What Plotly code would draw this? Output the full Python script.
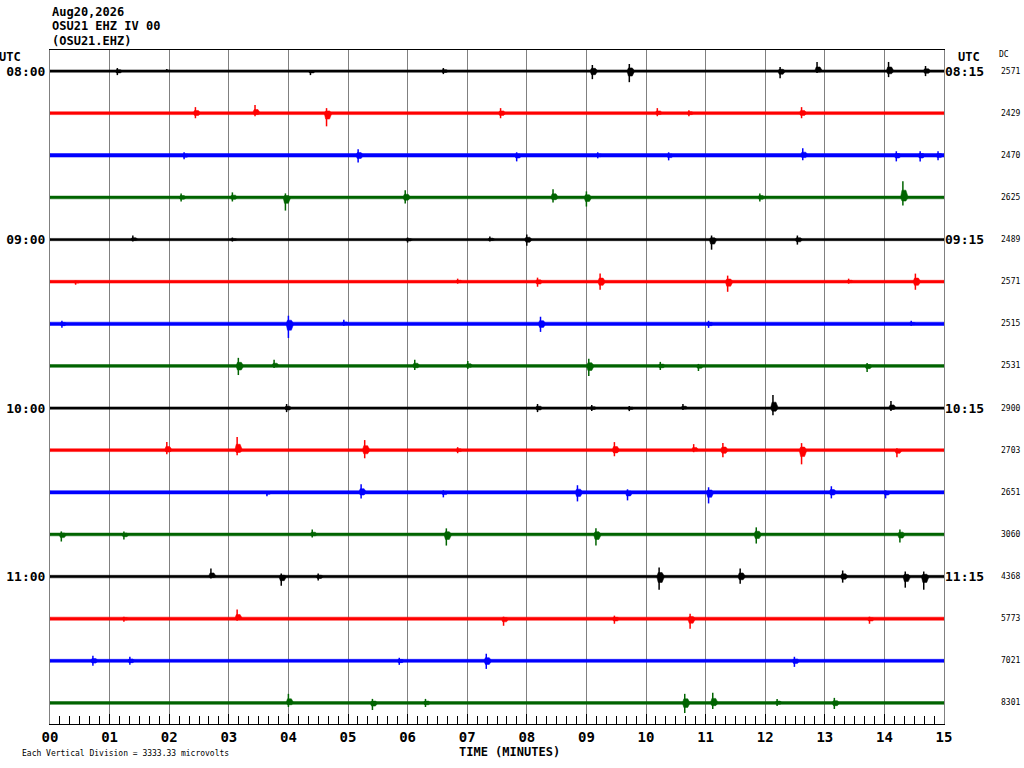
import plotly.graph_objects as go

# Helicorder OSU21 EHZ - 16 lines of 15 minutes, 08:00 to 12:00 UTC
START_LABELS_LEFT = ["08:00", "09:00", "10:00", "11:00"]
START_LABELS_RIGHT = ["08:15", "09:15", "10:15", "11:15"]
DC_OFFSETS = [2571, 2429, 2470, 2625, 2489, 2571, 2515, 2531,
              2900, 2703, 2651, 3060, 4368, 5773, 7021, 8301]
LINE_COLORS = ["#000000", "#ff0000", "#0000ff", "#006400"]
DIVISION_UV = 3333.33  # microvolts per vertical division (one line spacing)

# background noise half-width of each line, microvolts
NOISE_UV = [90, 110, 140, 110, 90, 110, 130, 110,
            90, 110, 130, 110, 100, 120, 120, 110]

# events: (minute, peak up uV, peak down uV)
ROW_0800 = [(1.13, 240, 320), (1.96, 160, 80), (4.37, 80, 320), (6.6, 240, 240),
            (9.1, 480, 640), (9.72, 560, 880), (12.25, 320, 560), (12.87, 720, 160),
            (14.07, 720, 480), (14.69, 400, 400)]
ROW_0815 = [(2.44, 480, 400), (3.44, 640, 240), (4.64, 400, 1040), (7.56, 400, 400),
            (10.19, 400, 240), (10.72, 240, 240), (12.61, 480, 400)]
ROW_0830 = [(2.25, 240, 320), (5.17, 480, 560), (7.83, 240, 480), (9.19, 240, 240),
            (10.38, 240, 400), (12.63, 560, 400), (14.2, 320, 480), (14.6, 320, 480),
            (14.9, 320, 400)]
ROW_0845 = [(2.2, 320, 320), (3.06, 400, 320), (3.95, 320, 1040), (5.96, 560, 480),
            (8.44, 640, 400), (9.0, 480, 720), (11.91, 320, 320), (14.31, 1280, 640)]
ROW_0900 = [(1.39, 320, 160), (3.06, 160, 160), (6.0, 160, 240), (7.38, 240, 160),
            (8.0, 400, 480), (11.1, 320, 800), (12.54, 320, 400)]
ROW_0915 = [(0.43, 80, 240), (6.84, 240, 160), (8.18, 320, 400), (9.23, 640, 640),
            (11.37, 480, 800), (13.4, 240, 160), (14.52, 640, 640)]
ROW_0930 = [(0.2, 240, 320), (4.0, 640, 1120), (4.93, 320, 160), (8.23, 560, 640),
            (11.05, 240, 320), (14.45, 240, 160)]
ROW_0945 = [(3.16, 640, 720), (3.76, 480, 160), (6.12, 480, 320), (7.01, 400, 240),
            (9.04, 560, 800), (10.24, 320, 320), (10.88, 160, 400), (13.71, 240, 480)]
ROW_1000 = [(3.97, 320, 320), (8.18, 320, 320), (9.09, 240, 240), (9.72, 160, 240),
            (10.62, 320, 160), (12.13, 1040, 560), (14.11, 560, 240)]
ROW_1015 = [(1.96, 640, 320), (3.14, 1040, 400), (5.28, 800, 640), (6.84, 240, 240),
            (9.47, 640, 480), (10.8, 480, 160), (11.29, 560, 560), (12.61, 560, 1120),
            (14.21, 160, 560)]
ROW_1030 = [(3.64, 80, 320), (5.22, 640, 480), (6.6, 160, 400), (8.85, 560, 720),
            (9.69, 240, 640), (11.05, 400, 880), (13.11, 480, 480), (14.02, 160, 480)]
ROW_1045 = [(0.19, 240, 560), (1.24, 240, 400), (4.4, 400, 240), (6.65, 480, 880),
            (9.16, 480, 880), (11.85, 560, 720), (14.26, 400, 640)]
ROW_1100 = [(2.7, 640, 160), (3.88, 240, 720), (4.5, 240, 320), (10.22, 720, 1040),
            (11.58, 640, 560), (13.3, 480, 480), (14.35, 400, 880), (14.66, 400, 1040)]
ROW_1115 = [(1.24, 160, 240), (3.14, 720, 160), (7.61, 160, 560), (9.47, 240, 400),
            (10.74, 400, 800), (13.75, 160, 400)]
ROW_1130 = [(0.72, 400, 400), (1.34, 320, 320), (5.86, 240, 320), (7.32, 560, 640),
            (12.49, 320, 480)]
ROW_1145 = [(4.0, 720, 320), (5.41, 320, 560), (6.3, 320, 320), (10.65, 720, 800),
            (11.12, 800, 480), (12.2, 320, 240), (13.16, 400, 480)]

ROWS = [ROW_0800, ROW_0815, ROW_0830, ROW_0845, ROW_0900, ROW_0915, ROW_0930, ROW_0945,
        ROW_1000, ROW_1015, ROW_1030, ROW_1045, ROW_1100, ROW_1115, ROW_1130, ROW_1145]

MONO = "DejaVu Sans Mono"
fig = go.Figure()

for r, events in enumerate(ROWS):
    base = -r
    color = LINE_COLORS[r % 4]
    n = NOISE_UV[r] / DIVISION_UV
    # noise band
    fig.add_trace(go.Scatter(
        x=[0, 15, 15, 0, 0], y=[base + n, base + n, base - n, base - n, base + n],
        mode="lines", fill="toself", fillcolor=color,
        line=dict(color=color, width=0.5), hoverinfo="skip", showlegend=False))
    # event bodies: a short spindle around each onset
    for t, up, down in events:
        u, d = 0.45 * up / DIVISION_UV, 0.45 * down / DIVISION_UV
        fig.add_trace(go.Scatter(
            x=[t - 0.04, t - 0.015, t + 0.05, t + 0.09, t + 0.05, t - 0.015, t - 0.04],
            y=[base, base + u, base + u, base, base - d, base - d, base],
            mode="lines", fill="toself", fillcolor=color,
            line=dict(color=color, width=0.5), hoverinfo="skip", showlegend=False))
    # event peaks
    xs, ys = [], []
    for t, up, down in events:
        xs += [t, t, None]
        ys += [base + up / DIVISION_UV, base - down / DIVISION_UV, None]
    fig.add_trace(go.Scatter(
        x=xs, y=ys, mode="lines", line=dict(color=color, width=1.5),
        hoverinfo="skip", showlegend=False))

# dummy trace so the right-hand axis is drawn
fig.add_trace(go.Scatter(x=[0], y=[0], yaxis="y2", mode="markers",
                         marker=dict(opacity=0), showlegend=False, hoverinfo="skip"))

fig.update_layout(
    width=1024, height=768,
    margin=dict(l=50, r=80, t=50, b=44),
    plot_bgcolor="white", paper_bgcolor="white",
    xaxis=dict(
        range=[0, 15], automargin=False,
        tickvals=list(range(16)), ticktext=[f"<b>{m:02d}</b>" for m in range(16)],
        showgrid=True, gridcolor="#808080", gridwidth=1,
        showline=True, linecolor="black", linewidth=1, mirror=True,
        ticks="inside", ticklen=10, tickcolor="black",
        minor=dict(dtick=1 / 6, ticks="inside", ticklen=8, tickcolor="black", showgrid=False),
        tickfont=dict(family=MONO, size=14, color="black"),
        zeroline=False,
    ),
    yaxis=dict(
        range=[-15.5, 0.5], automargin=False,
        tickvals=[0, -4, -8, -12], ticktext=[f"<b>{s}</b>" for s in START_LABELS_LEFT],
        tickfont=dict(family=MONO, size=13, color="black"),
        showgrid=False, zeroline=False, ticks="", ticklabelstandoff=1,
        showline=True, linecolor="#808080", mirror=True,
    ),
    yaxis2=dict(
        range=[-15.5, 0.5], overlaying="y", side="right", automargin=False,
        tickvals=[0, -4, -8, -12], ticktext=[f"<b>{s}</b>" for s in START_LABELS_RIGHT],
        tickfont=dict(family=MONO, size=13, color="black"),
        showgrid=False, zeroline=False, ticks="", showline=False,
    ),
)

annotations = []
for i, txt in enumerate(["Aug20,2026", "OSU21 EHZ IV 00", "(OSU21.EHZ)"]):
    annotations.append(dict(text=f"<b>{txt}</b>", xref="paper", yref="paper",
                            x=0, y=[1.0564, 1.0356, 1.0134][i], xanchor="left", yanchor="middle",
                            showarrow=False, font=dict(family=MONO, size=12, color="black")))
annotations.append(dict(text="<b>UTC</b>", xref="paper", yref="paper", x=-0.0447, y=0.9896,
                        xanchor="center", yanchor="middle", showarrow=False,
                        font=dict(family=MONO, size=12, color="black")))
annotations.append(dict(text="<b>UTC</b>", xref="paper", yref="paper", x=1.028, y=0.9896,
                        xanchor="center", yanchor="middle", showarrow=False,
                        font=dict(family=MONO, size=12, color="black")))
annotations.append(dict(text="DC", xref="paper", yref="paper", x=1.067, y=0.994,
                        xanchor="center", yanchor="middle", showarrow=False,
                        font=dict(family=MONO, size=8, color="black")))
for r, dc in enumerate(DC_OFFSETS):
    annotations.append(dict(text=str(dc), xref="paper", yref="y", x=1.0615, y=-r,
                            xanchor="left", yanchor="middle", showarrow=False,
                            font=dict(family=MONO, size=8, color="black")))
annotations.append(dict(text="<b>TIME (MINUTES)</b>", xref="paper", yref="paper",
                        x=0.5145, y=-0.0415, xanchor="center", yanchor="middle",
                        showarrow=False, font=dict(family=MONO, size=12, color="black")))
annotations.append(dict(text="Each Vertical Division = 3333.33 microvolts", xref="paper",
                        yref="paper", x=-0.0336, y=-0.0445, xanchor="left", yanchor="middle",
                        showarrow=False, font=dict(family=MONO, size=8, color="black")))
fig.update_layout(annotations=annotations)

# page margin off so the 1024x768 figure fits the window exactly
fig.write_html("out.html", config={"displayModeBar": False},
               post_script="document.body.style.margin='0';")
